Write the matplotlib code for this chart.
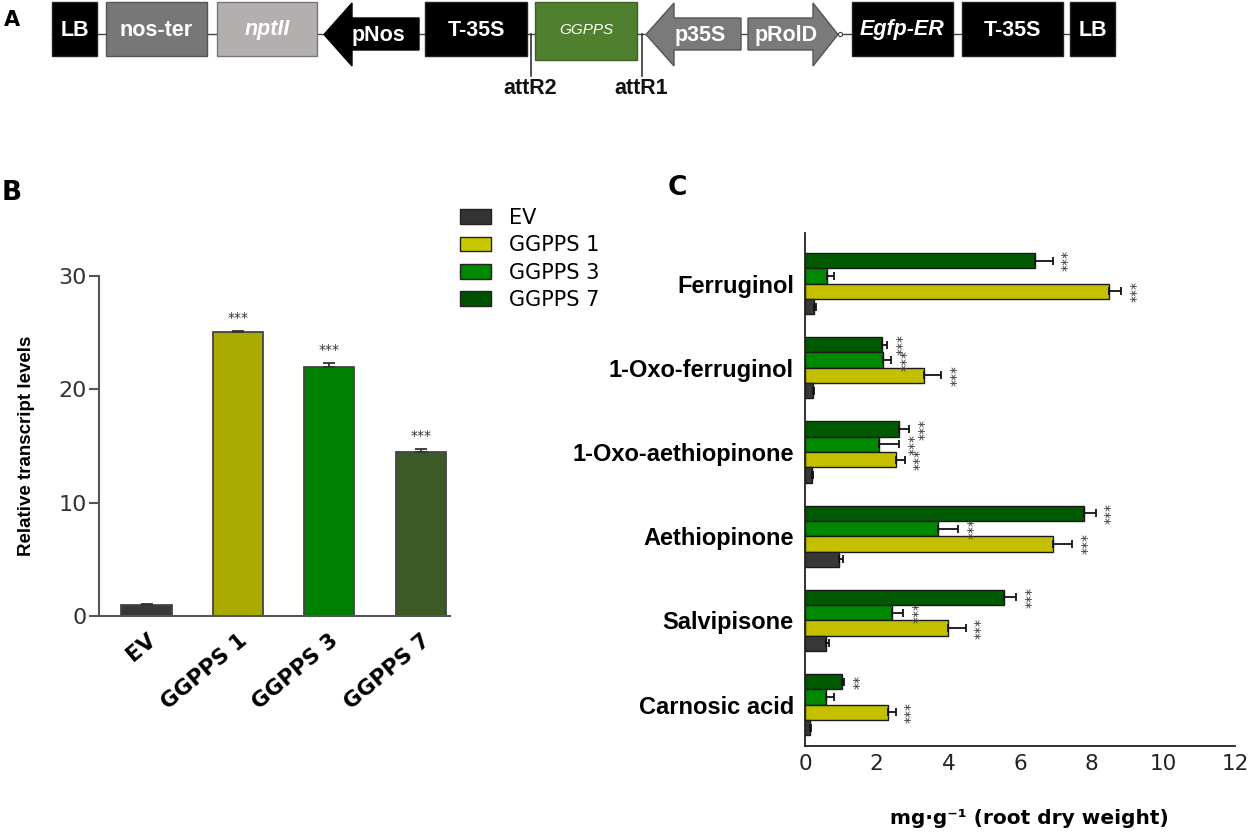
import matplotlib.pyplot as plt
from matplotlib.patches import Rectangle, Polygon, Patch

plt.rcParams['font.family'] = 'DejaVu Sans'

# ---- Panel A: construct elements ----
construct_parts = ['LB', 'nos-ter', 'nptII', 'pNos', 'T-35S', 'GGPPS',
                   'p35S', 'pRolD', 'Egfp-ER', 'T-35S', 'LB']
site_labels = ['attR2', 'attR1']

# ---- Panel B: relative transcript levels ----
lines_b = ['EV', 'GGPPS 1', 'GGPPS 3', 'GGPPS 7']
transcript = [0.95, 25.05, 22.0, 14.5]
transcript_err = [0.12, 0.12, 0.35, 0.25]
transcript_sig = ['', '***', '***', '***']

# ---- Panel C: diterpene content ----
compounds = ['Ferruginol', '1-Oxo-ferruginol', '1-Oxo-aethiopinone',
             'Aethiopinone', 'Salvipisone', 'Carnosic acid']
ev_vals = [0.25, 0.21, 0.20, 0.96, 0.58, 0.14]
ev_err = [0.05, 0.04, 0.03, 0.09, 0.10, 0.02]
g1_vals = [8.48, 3.33, 2.53, 6.92, 3.98, 2.31]
g1_err = [0.34, 0.47, 0.25, 0.54, 0.50, 0.22]
g3_vals = [0.62, 2.18, 2.06, 3.70, 2.44, 0.59]
g3_err = [0.19, 0.22, 0.57, 0.57, 0.30, 0.23]
g7_vals = [6.43, 2.16, 2.63, 7.78, 5.56, 1.04]
g7_err = [0.49, 0.14, 0.28, 0.33, 0.34, 0.05]
ev_sig = [''] * 6
g1_sig = ['***'] * 6
g3_sig = ['', '***', '***', '***', '***', '']
g7_sig = ['***', '***', '***', '***', '***', '**']

W, H = 1252, 835
fig = plt.figure(figsize=(W / 100, H / 100), dpi=100)
fontA = 'Liberation Sans'

# ================= A =================
axA = fig.add_axes([0, 1 - 110 / H, 1, 110 / H])
axA.set_xlim(0, W)
axA.set_ylim(110, 0)
axA.axis('off')

# (kind, x0, x1, face, edge, italic)
part_layout = [
    ('box', 52, 97, 'black', '#222222', False),
    ('box', 106, 207, '#777777', '#555555', False),
    ('box', 217, 317, '#b3afaf', '#777777', True),
    ('left', 324, 419, 'black', 'black', False),
    ('box', 425, 527, 'black', '#222222', False),
    ('box', 535, 637, '#4f7f2f', '#3c6322', True),
    ('left', 646, 741, '#7a7a7a', '#555555', False),
    ('right', 748, 838, '#7a7a7a', '#555555', False),
    ('box', 852, 953, 'black', '#222222', True),
    ('box', 962, 1063, 'black', '#222222', False),
    ('box', 1070, 1115, 'black', '#222222', False),
]
axA.plot([52, 1115], [34, 34], color='#444444', lw=1, zorder=1)
for name, (kind, x0, x1, fc, ec, ital) in zip(construct_parts, part_layout):
    if kind == 'box':
        y1 = 60 if name == 'GGPPS' else 56
        axA.add_patch(Rectangle((x0, 2), x1 - x0, y1 - 2, fc=fc, ec=ec, lw=1, zorder=2))
        tx, ty = (x0 + x1) / 2, 30
    elif kind == 'left':
        hb = x0 + 28
        axA.add_patch(Polygon([(x0, 34.5), (hb, 3), (hb, 18), (x1, 18), (x1, 50),
                               (hb, 50), (hb, 66)], closed=True, fc=fc, ec=ec, lw=1, zorder=2))
        tx, ty = (x0 + 14 + x1) / 2, 35
    else:
        hb = x1 - 25
        axA.add_patch(Polygon([(x0, 18), (hb, 18), (hb, 3), (x1, 34.5), (hb, 66),
                               (hb, 50), (x0, 50)], closed=True, fc=fc, ec=ec, lw=1, zorder=2))
        tx, ty = (x0 + x1 - 14) / 2, 35
    if name == 'GGPPS':
        axA.text(tx, ty, name, color='white', ha='center', va='center', fontsize=11,
                 style='italic', family=fontA, zorder=3)
    else:
        axA.text(tx, ty, name, color='white', ha='center', va='center', fontsize=15.5,
                 fontweight='bold', style='italic' if ital else 'normal', family=fontA, zorder=3)

site_x = [531, 642]
for lab, sx in zip(site_labels, site_x):
    axA.plot([sx, sx], [34, 76], color='#333333', lw=1.2, zorder=1)
    axA.text(sx - 1, 88, lab, ha='center', va='center', fontsize=15.5, fontweight='bold',
             family=fontA, color='#111111')
axA.plot([840], [34], marker='o', ms=3, mfc='white', mec='#444444', mew=0.8, zorder=3)

# ================= B =================
colors_b = ['#383838', '#aaaa00', '#008000', '#3b5a25']
axB = fig.add_axes([99 / W, 1 - 616 / H, 351 / W, 340 / H])
xb = range(len(lines_b))
axB.bar(xb, transcript, width=0.55, color=colors_b, edgecolor='#444444', linewidth=1.3,
        yerr=[[0] * len(transcript), transcript_err],
        error_kw=dict(ecolor='#333333', elinewidth=1.3, capsize=4.5, capthick=1.3))
for i, (v, e, s) in enumerate(zip(transcript, transcript_err, transcript_sig)):
    if s:
        axB.text(i, v + e + 1.1, s, ha='center', va='center', fontsize=10, color='#333333')
axB.set_xlim(-0.52, 3.32)
axB.set_ylim(0, 30)
axB.set_yticks([0, 10, 20, 30])
axB.set_xticks(list(xb))
axB.set_xticklabels(lines_b, rotation=40, ha='right', rotation_mode='anchor',
                    fontweight='bold', fontsize=15.5)
for sp in ['top', 'right']:
    axB.spines[sp].set_visible(False)
for sp in ['left', 'bottom']:
    axB.spines[sp].set_color('#555555')
    axB.spines[sp].set_linewidth(1.5)
axB.tick_params(axis='y', length=7, width=1.5, color='#555555', labelsize=16,
                labelcolor='#333333', pad=2)
axB.tick_params(axis='x', length=0, pad=10)
fig.text(27 / W, 1 - 446 / H, 'Relative transcript levels', rotation=90, ha='center',
         va='center', fontsize=13.5, fontweight='bold', family=fontA)

# ================= legend =================
legend_colors = ['#333333', '#c8c800', '#008800', '#005200']
handles = [Patch(fc=c, ec='#222222', lw=1) for c in legend_colors]
fig.legend(handles, lines_b, loc='upper left', bbox_to_anchor=(460 / W, 1 - 208 / H),
           frameon=False, fontsize=15, handlelength=1.5, handleheight=0.72,
           handletextpad=0.85, labelspacing=0.35, borderpad=0, borderaxespad=0)

# ================= C =================
axC = fig.add_axes([805 / W, 1 - 746 / H, 430 / W, 513 / H])
h = 0.182
series = [(g7_vals, g7_err, g7_sig, '#005800', -1.5),
          (g3_vals, g3_err, g3_sig, '#008800', -0.5),
          (g1_vals, g1_err, g1_sig, '#c4c000', 0.5),
          (ev_vals, ev_err, ev_sig, '#383838', 1.5)]
yc = list(range(len(compounds)))
for vals, err, sig, col, off in series:
    ys = [y + off * h for y in yc]
    axC.barh(ys, vals, height=h, color=col, edgecolor='#1a1a1a', linewidth=1.0,
             xerr=[[0] * len(vals), err],
             error_kw=dict(ecolor='#111111', elinewidth=1.3, capsize=2.8, capthick=1.3))
    for y, v, e, s in zip(ys, vals, err, sig):
        if s:
            axC.text(v + e + 0.42, y, s, rotation=90, ha='center', va='center',
                     fontsize=10, color='#333333')
axC.set_ylim(5.49, -0.6)
axC.set_xlim(0, 12)
axC.set_xticks(range(0, 13, 2))
axC.set_yticks(yc)
axC.set_yticklabels(compounds, fontweight='bold', fontsize=17, family=fontA)
for sp in ['top', 'right']:
    axC.spines[sp].set_visible(False)
for sp in ['left', 'bottom']:
    axC.spines[sp].set_color('#222222')
    axC.spines[sp].set_linewidth(1.3)
axC.tick_params(axis='y', length=0, pad=8)
axC.tick_params(axis='x', length=0, pad=6, labelsize=15.5, labelcolor='#222222')
fig.text(1029 / W, 1 - 818 / H, 'mg·g⁻¹ (root dry weight)',
         ha='center', va='center', fontsize=14.5, fontweight='bold')

# panel letters
fig.text(12 / W, 1 - 20 / H, 'A', ha='center', va='center', fontsize=15, fontweight='bold')
fig.text(12 / W, 1 - 193 / H, 'B', ha='center', va='center', fontsize=19, fontweight='bold')
fig.text(677 / W, 1 - 188 / H, 'C', ha='center', va='center', fontsize=19, fontweight='bold')

fig.savefig('out.png', dpi=100)
